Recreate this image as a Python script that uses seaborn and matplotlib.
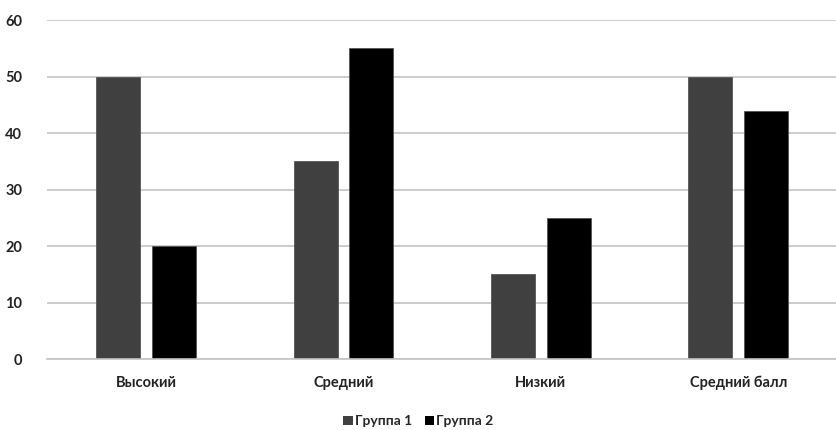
import matplotlib
matplotlib.use("Agg")
import matplotlib.pyplot as plt
import seaborn as sns
import pandas as pd
from matplotlib.patches import Patch

categories = ["Высокий", "Средний", "Низкий", "Средний балл"]
group1 = [50, 35, 15, 50]
group2 = [20, 55, 25, 44]
series_names = ["Группа 1", "Группа 2"]
y_ticks = [0, 10, 20, 30, 40, 50, 60]

sns.set_theme(style="white")
plt.rcParams["font.family"] = ["Lato", "DejaVu Sans"]

df = pd.DataFrame({
    "category": categories * 2,
    "value": group1 + group2,
    "series": [series_names[0]] * 4 + [series_names[1]] * 4,
})

colors = {series_names[0]: "#404040", series_names[1]: "#000000"}

fig = plt.figure(figsize=(8.37, 4.30), dpi=100)
ax = fig.add_axes([0.0565, 0.165, 0.9435, 0.788])

sns.barplot(data=df, x="category", y="value", hue="series", order=categories,
            hue_order=series_names, palette=colors, width=0.565, gap=0.21,
            edgecolor="#555555", linewidth=0.6, ax=ax, legend=False)

ax.set_ylim(0, 60)
ax.set_xlim(-0.5, 3.5)
ax.set_yticks(y_ticks)
ax.yaxis.grid(True, color="#c4c4c4", linewidth=1.2)
ax.set_axisbelow(True)
for side in ["left", "right", "top"]:
    ax.spines[side].set_visible(False)
ax.spines["bottom"].set_color("#c4c4c4")
ax.spines["bottom"].set_linewidth(1.2)
ax.set_xlabel("")
ax.set_ylabel("")
ax.tick_params(axis="both", length=0, labelsize=10.5, colors="#222222")
ax.tick_params(axis="x", pad=12)
ax.tick_params(axis="y", pad=18)
for lab in ax.get_xticklabels() + ax.get_yticklabels():
    lab.set_fontweight("bold")

handles = [Patch(facecolor=colors[n], edgecolor="none") for n in series_names]
fig.legend(handles, series_names, loc="center", bbox_to_anchor=(0.5, 0.02),
           ncol=2, frameon=False, handlelength=0.7, handleheight=0.7,
           handletextpad=0.15, columnspacing=0.9,
           prop={"size": 10, "weight": "bold"})

fig.savefig("out.png", dpi=100, facecolor="white")
